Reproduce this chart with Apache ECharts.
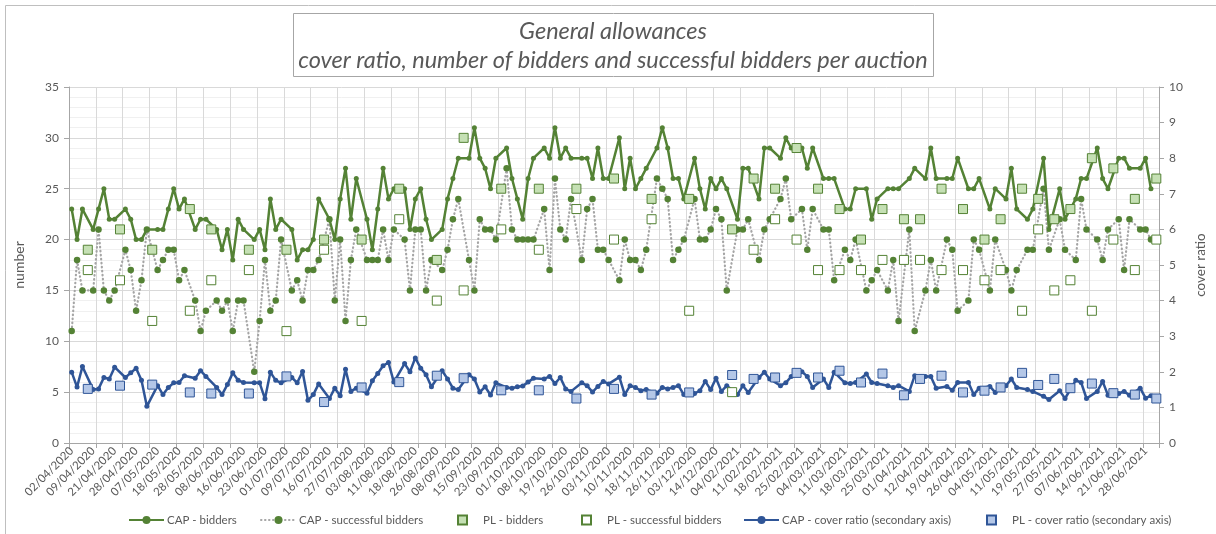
<!DOCTYPE html>
<html><head><meta charset="utf-8">
<script src="https://cdn.jsdelivr.net/npm/echarts@6/dist/echarts.min.js"></script>
<style>html,body{margin:0;padding:0;background:#fff}#c{width:1216px;height:534px}</style>
</head><body><div id="c"></div>
<script>
const _ = null;
const tickLabels = ['02/04/2020','09/04/2020','21/04/2020','28/04/2020','07/05/2020','18/05/2020','28/05/2020','08/06/2020','16/06/2020','23/06/2020','01/07/2020','09/07/2020','16/07/2020','27/07/2020','03/08/2020','11/08/2020','18/08/2020','26/08/2020','08/09/2020','15/09/2020','23/09/2020','01/10/2020','08/10/2020','19/10/2020','26/10/2020','03/11/2020','10/11/2020','18/11/2020','26/11/2020','03/12/2020','14/12/2020','04/02/2021','11/02/2021','18/02/2021','25/02/2021','04/03/2021','11/03/2021','18/03/2021','25/03/2021','01/04/2021','12/04/2021','19/04/2021','26/04/2021','04/05/2021','11/05/2021','19/05/2021','27/05/2021','07/06/2021','14/06/2021','21/06/2021','28/06/2021'];

const capBidders = [
23,20,23,_,21,23,25,22,22,_,
23,22,20,20,21,_,21,21,23,25,
23,24,_,21,22,22,_,21,19,21,
18,22,21,_,20,21,19,24,21,22,
_,21,18,19,19,20,24,_,22,20,
24,27,22,26,_,22,19,23,27,24,
25,_,25,21,24,25,22,20,_,21,
24,26,28,_,28,31,28,27,25,28,
_,29,26,24,22,26,28,_,29,28,
31,28,29,28,_,28,28,26,29,26,
26,_,30,25,28,25,26,27,_,29,
31,29,26,26,24,_,28,25,23,26,
25,26,25,_,22,27,27,_,24,29,
29,_,28,30,29,_,29,27,29,_,
26,26,26,_,23,23,25,_,25,22,
24,_,25,25,25,_,26,27,_,26,
29,26,_,26,26,28,_,25,25,26,
_,23,25,_,24,27,23,_,22,23,
_,28,21,_,25,22,_,24,26,26,
_,29,26,25,_,28,28,27,_,27,
28,25,_];

const capSuccessful = [
11,18,15,_,15,21,15,14,15,_,
19,17,13,16,21,_,17,18,19,19,
16,17,_,14,11,13,_,14,13,14,
11,14,14,_,7,12,18,13,14,20,
_,15,16,14,17,17,18,_,22,14,
20,12,18,21,_,18,18,18,21,18,
21,_,20,15,21,21,15,18,_,17,
19,22,24,_,18,15,22,21,21,20,
_,27,21,20,20,20,20,_,23,17,
26,21,20,24,_,18,23,24,19,19,
18,_,16,20,18,18,17,19,_,26,
25,24,18,19,20,_,24,20,20,21,
23,22,15,_,21,21,22,_,18,21,
22,_,24,26,22,_,23,19,23,_,
21,21,16,_,19,18,20,_,15,16,
17,_,15,18,12,_,21,11,_,15,
18,15,_,20,19,13,_,14,20,19,
_,15,20,_,17,15,17,_,19,19,
_,25,19,_,22,19,_,18,24,21,
_,20,18,21,_,22,17,22,_,21,
21,20,_];

const capCoverRatio = [
1.99,1.57,2.15,_,1.5,1.52,1.84,1.8,2.13,_,
1.84,1.97,2.1,1.76,1.03,_,1.61,1.36,1.56,1.69,
1.7,1.89,_,1.82,2.03,1.87,_,1.56,1.36,1.64,
1.97,1.76,1.7,_,1.69,1.69,1.24,1.99,1.76,1.69,
_,1.84,1.69,2.01,1.2,1.36,1.66,_,1.25,1.54,
1.33,2.07,1.45,1.54,_,1.4,1.75,1.95,2.17,2.26,
1.71,_,2.23,2.0,2.39,2.1,1.92,1.58,_,2.03,
1.8,1.54,1.5,_,1.92,1.8,1.43,1.58,1.35,1.69,
_,1.56,1.54,1.58,1.6,1.71,1.82,_,1.8,1.87,
1.67,1.84,1.52,1.45,_,1.69,1.61,1.43,1.59,1.73,
1.66,_,1.85,1.36,1.61,1.56,1.47,1.5,_,1.4,
1.56,1.52,1.56,1.61,1.36,_,1.39,1.47,1.73,1.5,
1.82,1.45,1.61,_,1.36,1.61,1.42,_,1.84,1.99,
1.8,_,1.61,1.69,1.87,_,2.0,1.87,1.56,_,
1.8,1.56,1.99,_,1.69,1.67,1.7,_,1.94,1.7,
1.67,_,1.61,1.56,1.61,_,1.45,1.89,_,1.87,
1.87,1.54,_,1.59,1.48,1.7,_,1.7,1.36,1.54,
_,1.59,1.42,_,1.61,1.8,1.56,_,1.5,1.45,
_,1.31,1.22,_,1.47,1.25,_,1.76,1.7,1.25,
_,1.45,1.73,1.34,_,1.39,1.45,1.34,_,1.54,
1.26,1.33,_];

const plBidders = [
_,_,_,19,_,_,_,_,_,21,
_,_,_,_,_,19,_,_,_,_,
_,_,23,_,_,_,21,_,_,_,
_,_,_,19,_,_,_,_,_,_,
19,_,_,_,_,_,_,20,_,_,
_,_,_,_,20,_,_,_,_,_,
_,25,_,_,_,_,_,_,18,_,
_,_,_,30,_,_,_,_,_,_,
25,_,_,_,_,_,_,25,_,_,
_,_,_,_,25,_,_,_,_,_,
_,26,_,_,_,_,_,_,24,_,
_,_,_,_,_,24,_,_,_,_,
_,_,_,21,_,_,_,26,_,_,
_,25,_,_,_,29,_,_,_,25,
_,_,_,23,_,_,_,20,_,_,
_,23,_,_,_,22,_,_,22,_,
_,_,25,_,_,_,23,_,_,_,
20,_,_,22,_,_,_,25,_,_,
24,_,_,22,_,_,23,_,_,_,
28,_,_,_,27,_,_,_,24,_,
_,_,26];

const plSuccessful = [
_,_,_,17,_,_,_,_,_,16,
_,_,_,_,_,12,_,_,_,_,
_,_,13,_,_,_,16,_,_,_,
_,_,_,17,_,_,_,_,_,_,
11,_,_,_,_,_,_,19,_,_,
_,_,_,_,12,_,_,_,_,_,
_,22,_,_,_,_,_,_,14,_,
_,_,_,15,_,_,_,_,_,_,
21,_,_,_,_,_,_,19,_,_,
_,_,_,_,23,_,_,_,_,_,
_,20,_,_,_,_,_,_,22,_,
_,_,_,_,_,13,_,_,_,_,
_,_,_,5,_,_,_,19,_,_,
_,22,_,_,_,20,_,_,_,17,
_,_,_,17,_,_,_,17,_,_,
_,18,_,_,_,18,_,_,18,_,
_,_,17,_,_,_,17,_,_,_,
16,_,_,17,_,_,_,13,_,_,
21,_,_,15,_,_,16,_,_,_,
13,_,_,_,20,_,_,_,17,_,
_,_,20];

const plCoverRatio = [
_,_,_,1.52,_,_,_,_,_,1.61,
_,_,_,_,_,1.64,_,_,_,_,
_,_,1.42,_,_,_,1.39,_,_,_,
_,_,_,1.39,_,_,_,_,_,_,
1.87,_,_,_,_,_,_,1.15,_,_,
_,_,_,_,1.56,_,_,_,_,_,
_,1.71,_,_,_,_,_,_,1.89,_,
_,_,_,1.82,_,_,_,_,_,_,
1.48,_,_,_,_,_,_,1.48,_,_,
_,_,_,_,1.25,_,_,_,_,_,
_,1.52,_,_,_,_,_,_,1.36,_,
_,_,_,_,_,1.42,_,_,_,_,
_,_,_,1.91,_,_,_,1.8,_,_,
_,1.84,_,_,_,1.97,_,_,_,1.84,
_,_,_,2.03,_,_,_,1.7,_,_,
_,1.95,_,_,_,1.34,_,_,1.8,_,
_,_,1.89,_,_,_,1.42,_,_,_,
1.47,_,_,1.56,_,_,_,1.97,_,_,
1.63,_,_,1.8,_,_,1.54,_,_,_,
1.67,_,_,_,1.4,_,_,_,1.36,_,
_,_,1.25];

const seriesNames = ['CAP - bidders','CAP - successful bidders','PL - bidders','PL - successful bidders','CAP - cover ratio (secondary axis)','PL - cover ratio (secondary axis)'];
const titleLines = ['General allowances','cover ratio, number of bidders and successful bidders per auction'];

const categories = capBidders.map((v, i) => (i % 4 === 0 ? tickLabels[i / 4] : ''));
const lineData = arr => arr.map(v => (v === null ? '-' : v));
const pointData = arr => arr.map((v, i) => (v === null ? null : [i, v])).filter(p => p !== null);

const G = '#548235', B = '#2f5597', TXT = '#595959', AX = '#a6a6a6';
const FF = 'Lato, "Liberation Sans", sans-serif';

const legendSlots = [
  {left: 123, wide: true}, {left: 255, wide: true}, {left: 452, wide: false},
  {left: 576, wide: false}, {left: 738, wide: true}, {left: 981, wide: false}
];
const legends = legendSlots.map((s, k) => ({
  left: s.left, top: 509, orient: 'horizontal',
  itemWidth: s.wide ? 35 : 9, itemHeight: s.wide ? 10 : 9,
  textStyle: {color: TXT, fontSize: 11.5, fontFamily: FF, padding: s.wide ? [0, 0, 0, -2] : [0, 0, 0, 11]},
  data: [seriesNames[k]]
}));

const chart = echarts.init(document.getElementById('c'), null, {renderer: 'canvas'});
chart.setOption({
  animation: false,
  backgroundColor: '#ffffff',
  textStyle: {fontFamily: FF},
  grid: {left: 69, right: 57, top: 87, bottom: 91, containLabel: false},
  graphic: [
    {type: 'rect', silent: true, shape: {x: 5.5, y: 5.5, width: 1230, height: 560}, style: {fill: 'none', stroke: '#bfbfbf', lineWidth: 1}},
    {type: 'rect', silent: true, shape: {x: 293.5, y: 13.5, width: 640, height: 63}, style: {fill: '#ffffff', stroke: '#a6a6a6', lineWidth: 1}},
    {type: 'text', silent: true, x: 613, y: 31, style: {text: titleLines[0], align: 'center', verticalAlign: 'middle', fontSize: 23.5, fontStyle: 'italic', fontFamily: FF, fill: TXT}},
    {type: 'text', silent: true, x: 613, y: 60, style: {text: titleLines[1], align: 'center', verticalAlign: 'middle', fontSize: 23.5, fontStyle: 'italic', fontFamily: FF, fill: TXT}}
  ],
  legend: legends,
  xAxis: {
    type: 'category', data: categories, boundaryGap: true,
    axisLine: {lineStyle: {color: AX}},
    axisTick: {show: true, interval: 4, length: 5, lineStyle: {color: AX}},
    axisLabel: {interval: 3, rotate: 45, color: TXT, fontSize: 11.5, fontFamily: FF, margin: 6},
    splitLine: {show: true, interval: 4, lineStyle: {color: '#d9d9d9'}}
  },
  yAxis: [
    {
      type: 'value', min: 0, max: 35, interval: 5, position: 'left',
      name: 'number', nameLocation: 'middle', nameGap: 43,
      nameTextStyle: {color: TXT, fontSize: 14, fontFamily: FF},
      axisLine: {show: true, lineStyle: {color: AX}},
      axisTick: {show: true, length: 5, lineStyle: {color: AX}},
      axisLabel: {color: TXT, fontSize: 12, fontFamily: FF, margin: 10},
      splitLine: {show: true, lineStyle: {color: '#d9d9d9'}},
      minorTick: {show: false, splitNumber: 5},
      minorSplitLine: {show: true, lineStyle: {color: '#f0f0f0'}}
    },
    {
      type: 'value', min: 0, max: 10, interval: 1, position: 'right',
      name: 'cover ratio', nameLocation: 'middle', nameGap: 31,
      nameTextStyle: {color: TXT, fontSize: 13.5, fontFamily: FF},
      axisLine: {show: true, lineStyle: {color: AX}},
      axisTick: {show: true, length: 5, lineStyle: {color: AX}},
      axisLabel: {color: TXT, fontSize: 12, fontFamily: FF, margin: 10},
      splitLine: {show: false}
    }
  ],
  series: [
    {name: seriesNames[0], type: 'line', data: lineData(capBidders), connectNulls: true,
     symbol: 'circle', symbolSize: 5, showAllSymbol: true,
     itemStyle: {color: G}, lineStyle: {color: G, width: 2.5}, z: 3},
    {name: seriesNames[1], type: 'line', data: lineData(capSuccessful), connectNulls: true,
     symbol: 'circle', symbolSize: 6.5, showAllSymbol: true,
     itemStyle: {color: G}, lineStyle: {color: '#a5a5a5', width: 2.2, type: [0.5, 3.5], cap: 'round'}, z: 2},
    {name: seriesNames[2], type: 'scatter', data: pointData(plBidders), symbol: 'rect', symbolSize: 9,
     itemStyle: {color: '#c5e0b4', borderColor: G, borderWidth: 1, opacity: 1}, z: 4},
    {name: seriesNames[3], type: 'scatter', data: pointData(plSuccessful), symbol: 'rect', symbolSize: 9,
     itemStyle: {color: '#ffffff', borderColor: G, borderWidth: 1, opacity: 1}, z: 4},
    {name: seriesNames[4], type: 'line', yAxisIndex: 1, data: lineData(capCoverRatio), connectNulls: true,
     symbol: 'circle', symbolSize: 5, showAllSymbol: true,
     itemStyle: {color: B}, lineStyle: {color: B, width: 2.5}, z: 3},
    {name: seriesNames[5], type: 'scatter', yAxisIndex: 1, data: pointData(plCoverRatio), symbol: 'rect', symbolSize: 9,
     itemStyle: {color: '#b4c7e7', borderColor: B, borderWidth: 1, opacity: 1}, z: 4}
  ]
});
</script>
</body></html>
